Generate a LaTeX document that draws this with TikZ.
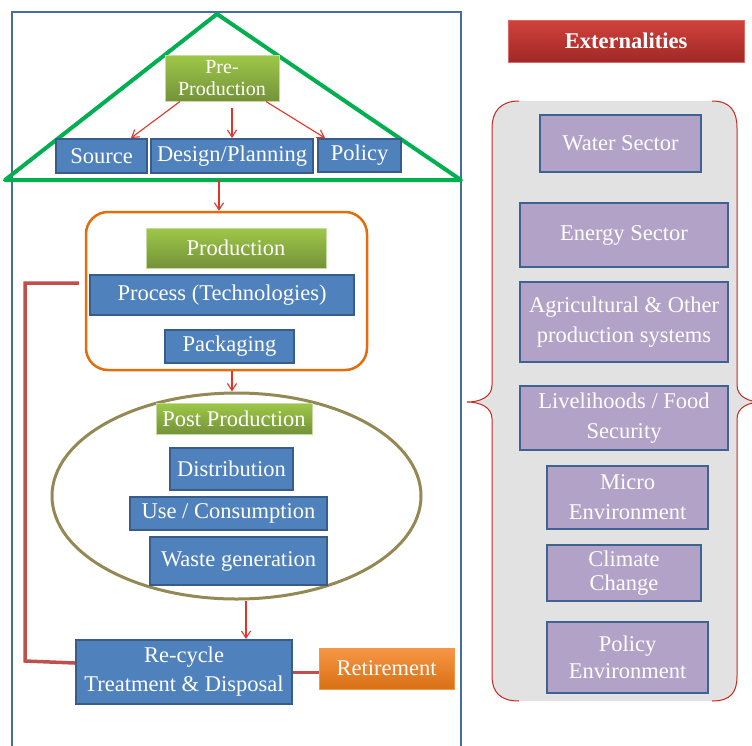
\documentclass[tikz,border=0pt]{standalone}
\usepackage{fontspec}
\setmainfont{Liberation Serif}
\usetikzlibrary{arrows.meta,shapes.geometric}

\definecolor{frameblue}{RGB}{70,108,160}
\definecolor{roofgreen}{RGB}{0,176,80}
\definecolor{boxblue}{RGB}{79,129,189}
\definecolor{boxedge}{RGB}{56,93,138}
\definecolor{lilac}{RGB}{179,162,199}
\definecolor{lilacedge}{RGB}{62,98,145}
\definecolor{greentop}{RGB}{158,200,72}
\definecolor{greenbot}{RGB}{116,146,58}
\definecolor{greenedge}{RGB}{196,220,160}
\definecolor{zoneorange}{RGB}{228,108,10}
\definecolor{zoneolive}{RGB}{148,137,84}
\definecolor{flowred}{RGB}{226,52,40}
\definecolor{loopred}{RGB}{192,80,77}
\definecolor{headtop}{RGB}{210,66,60}
\definecolor{headbot}{RGB}{160,40,38}
\definecolor{retiretop}{RGB}{247,150,70}
\definecolor{retirebot}{RGB}{216,112,20}
\definecolor{panelgrey}{RGB}{226,226,226}
\definecolor{braceline}{RGB}{200,40,30}

\begin{document}
\begin{tikzpicture}[x=1pt,y=-1pt,
  label22/.style={font=\fontsize{22.5}{26}\selectfont},
  box/.style={label22, inner sep=0pt, align=center, text=white},
  bluebox/.style={box, draw=boxedge, line width=2pt, fill=boxblue},
  greenbox/.style={box, draw=greenedge, line width=1pt, top color=greentop, bottom color=greenbot},
  lilacbox/.style={box, draw=lilacedge, line width=2.5pt, fill=lilac},
  flow/.style={draw=flowred, line width=1.1pt, -{Straight Barb[length=7pt,width=9pt]}},
  loopline/.style={draw=loopred, line width=3.5pt},
]
\useasboundingbox (0,0) rectangle (752,745);
\clip (0,0) rectangle (752,745);
\fill[white] (0,0) rectangle (752,745);

% outer frame of the life cycle column
\draw[frameblue, line width=2pt] (12,760) -- (12,12) -- (461,12) -- (461,760);

% roof of the pre-production stage
\draw[roofgreen, line width=4pt, line join=round] (5,180) -- (217,14) -- (461,180) -- cycle;
\coordinate (roofbase) at (219,180);

% pre-production
\node[greenbox, minimum width=114pt, minimum height=46pt, font=\fontsize{20}{22}\selectfont] (prepro) at (222,78) {Pre-\\Production};
\node[bluebox, minimum width=91pt, minimum height=34pt] (source) at (101.5,156) {Source};
\node[bluebox, minimum width=162pt, minimum height=34pt] (design) at (232,156) {\raisebox{-1.5pt}{Design/Planning}};
\node[bluebox, minimum width=83pt, minimum height=33pt] (policy) at (359.5,155.5) {\raisebox{-1.5pt}{Policy}};

\draw[flow] ([xshift=-42pt]prepro.south) -- ([xshift=29.5pt]source.north);
\draw[flow] ([xshift=10pt,yshift=-6pt]prepro.south) -- (design.north);
\draw[flow] ([xshift=44pt]prepro.south) -- ([xshift=-34.5pt]policy.north);

% production
\node[draw=zoneorange, line width=2.5pt, rounded corners=22pt, minimum width=281pt, minimum height=158pt] (prodzone) at (226.5,291) {};
\node[greenbox, minimum width=180pt, minimum height=40pt] (production) at (236,248) {Production};
\node[bluebox, minimum width=264pt, minimum height=40pt] (process) at (222,295) {\raisebox{-1.5pt}{Process (Technologies)}};
\node[bluebox, minimum width=129pt, minimum height=33pt] (packaging) at (229.5,346.5) {\raisebox{-1.5pt}{Packaging}};

\draw[flow] (roofbase) -- ([xshift=-7.5pt]prodzone.north);

% post production
\node[ellipse, draw=zoneolive, line width=3pt, inner sep=0pt, minimum width=369pt, minimum height=206pt] (postzone) at (236.5,496) {};
\node[greenbox, minimum width=156pt, minimum height=31pt] (postprod) at (234,418.5) {Post Production};
\node[bluebox, minimum width=123pt, minimum height=42pt] (distribution) at (231.5,469) {Distribution};
\node[bluebox, minimum width=197pt, minimum height=33pt] (use) at (228.5,513.5) {\raisebox{-1.5pt}{Use / Consumption}};
\node[bluebox, minimum width=177pt, minimum height=48pt] (waste) at (238.5,561) {\raisebox{-1.5pt}{Waste generation}};

\draw[flow] ([xshift=5.5pt]prodzone.south) -- ([xshift=-4.5pt]postzone.north);

% end of life
\node[bluebox, minimum width=216pt, minimum height=64pt, font=\fontsize{22.5}{29}\selectfont] (recycle) at (184,672) {Re-cycle\\Treatment \& Disposal};
\node[box, draw=retiretop, line width=1pt, top color=retiretop, bottom color=retirebot, minimum width=135pt, minimum height=41pt] (retirement) at (386.5,668.5) {Retirement};

\draw[flow] ([xshift=9.5pt]postzone.south) -- ([xshift=62pt]recycle.north);
\draw[loopred, line width=3pt] (recycle.east) -- (recycle.east -| retirement.west);
\draw[loopline, line join=miter] ([xshift=-6pt,yshift=8pt]prodzone.west) -- (25,283) -- (25,661) -- ([yshift=9pt]recycle.west);

% externalities
\node[box, draw=headtop!80!white, line width=1pt, top color=headtop, bottom color=headbot, minimum width=236pt, minimum height=42pt, font=\fontsize{22.5}{26}\selectfont\bfseries] (extern) at (626,41) {Externalities};

% double-brace panel holding the externalities
\fill[panelgrey] (519,101) .. controls (500,101) and (492,112) .. (492,128) -- (492,385)
  .. controls (492,397) and (480,402) .. (467,402) .. controls (480,402) and (492,407) .. (492,419)
  -- (492,676) .. controls (492,692) and (500,701) .. (519,701) -- (712,701)
  .. controls (731,701) and (737,692) .. (737,676) -- (737,419)
  .. controls (737,407) and (749,402) .. (762,402) .. controls (749,402) and (737,397) .. (737,385)
  -- (737,128) .. controls (737,112) and (731,101) .. (712,101) -- cycle;
\draw[braceline, line width=1pt] (519,101) .. controls (500,101) and (492,112) .. (492,128) -- (492,385)
  .. controls (492,397) and (480,402) .. (467,402) .. controls (480,402) and (492,407) .. (492,419)
  -- (492,676) .. controls (492,692) and (500,701) .. (519,701);
\draw[braceline, line width=1pt] (712,701) .. controls (731,701) and (737,692) .. (737,676) -- (737,419)
  .. controls (737,407) and (749,402) .. (762,402) .. controls (749,402) and (737,397) .. (737,385)
  -- (737,128) .. controls (737,112) and (731,101) .. (712,101);

\node[lilacbox, minimum width=161pt, minimum height=57pt] (water) at (620.5,143.5) {Water Sector};
\node[lilacbox, minimum width=208pt, minimum height=64pt] (energy) at (624,235) {\raisebox{-2pt}{Energy Sector}};
\node[lilacbox, minimum width=208pt, minimum height=80pt, font=\fontsize{22.5}{30}\selectfont] (agri) at (624,322) {Agricultural \& Other\\production systems};
\node[lilacbox, minimum width=208pt, minimum height=64pt, font=\fontsize{22.5}{30}\selectfont] (liveli) at (624,418) {Livelihoods / Food\\Security};
\node[lilacbox, minimum width=161pt, minimum height=63pt, font=\fontsize{22.5}{30}\selectfont] (micro) at (627.5,497.5) {Micro\\Environment};
\node[lilacbox, minimum width=154pt, minimum height=56pt, font=\fontsize{22.5}{24}\selectfont] (climate) at (624,573) {Climate\\Change};
\node[lilacbox, minimum width=161pt, minimum height=71pt, font=\fontsize{22.5}{27}\selectfont] (policyenv) at (627.5,657.5) {Policy\\Environment};
\end{tikzpicture}
\end{document}
